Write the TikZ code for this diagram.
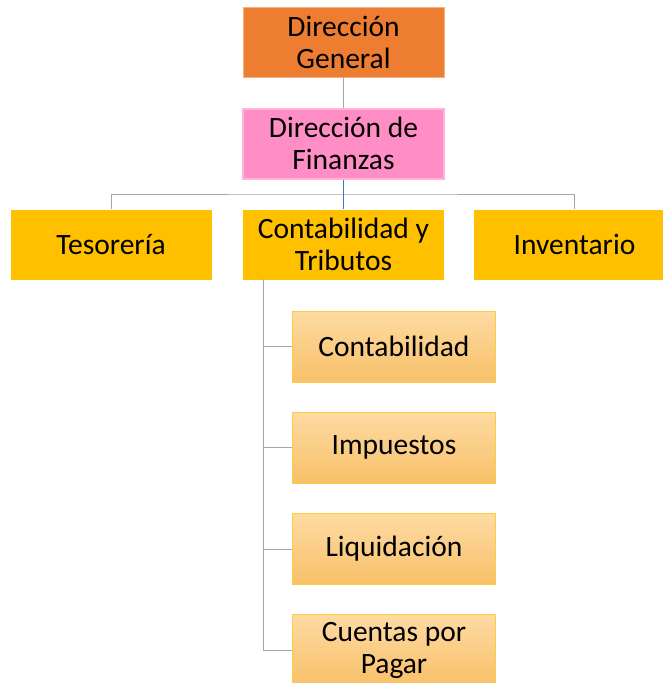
\documentclass[tikz,border=0pt]{standalone}
\usepackage{fontspec}
\setmainfont{Carlito}
\definecolor{orangeA}{HTML}{ED7D31}
\definecolor{pinkA}{HTML}{FF8EC6}
\definecolor{pinkL}{HTML}{FFB3DA}
\definecolor{goldA}{HTML}{FFC000}
\definecolor{subTop}{HTML}{FDDBA3}
\definecolor{subBot}{HTML}{F8C069}
\definecolor{subLine}{HTML}{FFCB3F}
\definecolor{lineG}{HTML}{A6A6A6}
\definecolor{lineB}{HTML}{4472C4}
\tikzset{
  box/.style={minimum width=201pt, minimum height=70pt, inner sep=0pt, align=center,
    font=\fontsize{29.5}{32}\selectfont, text=black},
  topbox/.style={box, fill=orangeA, draw=orangeA!60!white, line width=0.6pt},
  finbox/.style={box, fill=pinkA, draw=pinkL, line width=2pt},
  midbox/.style={box, fill=goldA},
  subbox/.style={box, minimum width=203pt, minimum height=71pt, top color=subTop, bottom color=subBot, draw=subLine, line width=0.6pt},
  conn/.style={draw=lineG, line width=1pt},
  connb/.style={draw=lineB, line width=1.2pt}
}
\begin{document}
\begin{tikzpicture}[x=1pt,y=-1pt]
\useasboundingbox (0,0) rectangle (663,683);
\clip (0,0) rectangle (663,683);
\node[topbox] (dg) at (343.5,42) {Dirección\\General};
\node[finbox] (df) at (343.5,143.5) {Dirección de\\Finanzas};
\node[midbox] (tes) at (111,244.5) {Tesorería};
\node[midbox] (cyt) at (343.5,244.5) {Contabilidad y\\Tributos};
\node[midbox] (inv) at (574.5,244.5) {Inventario};
\node[subbox] (s1) at (394,346.5) {Contabilidad};
\node[subbox] (s2) at (394,447.5) {Impuestos};
\node[subbox] (s3) at (394,549) {Liquidación};
\node[subbox] (s4) at (394,650) {Cuentas por\\Pagar};
\coordinate (bar) at (343.5,194);
\coordinate (spine) at (263,279);
\draw[conn] (dg.south) -- (df.north);
\draw[conn] (tes.north) |- (bar) -| (inv.north);
\draw[connb] (df.south) -- (cyt.north);
\draw[conn] (spine) -- (spine |- s4.west);
\draw[conn] (spine |- s1.west) -- (s1.west);
\draw[conn] (spine |- s2.west) -- (s2.west);
\draw[conn] (spine |- s3.west) -- (s3.west);
\draw[conn] (spine |- s4.west) -- (s4.west);
\end{tikzpicture}
\end{document}
